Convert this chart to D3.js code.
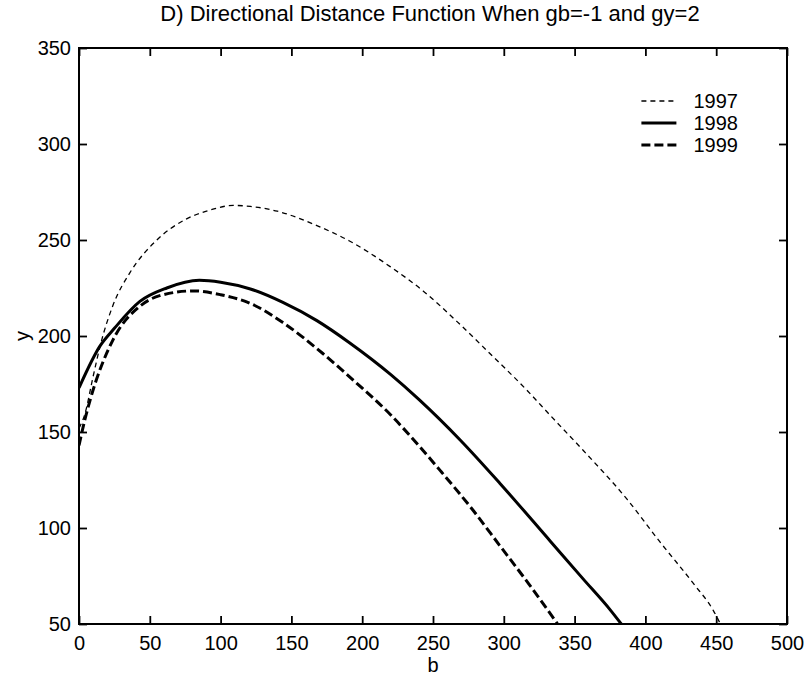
<!DOCTYPE html>
<html>
<head>
<meta charset="utf-8">
<script src="https://cdn.jsdelivr.net/npm/d3@7"></script>
<style>
  body { margin: 0; background: #fff; }
  text { font-family: "Liberation Sans", Arial, sans-serif; fill: #000; }
</style>
</head>
<body>
<div id="chart"></div>
<script>
const width = 807;
const height = 685;
const margin = { left: 79, right: 20, top: 48, bottom: 61 };

const xTicks = [0, 50, 100, 150, 200, 250, 300, 350, 400, 450, 500];
const yTicks = [50, 100, 150, 200, 250, 300, 350];
const seriesNames = ["1997", "1998", "1999"];

// b, y pairs
const b1997 = [0, 4, 10, 15, 24, 36, 55, 76, 92, 109, 121, 140, 168, 191, 220, 243, 267, 290, 316, 333, 356, 387, 410, 434, 448, 453];
const y1997 = [152, 159, 179, 195, 216, 233, 250, 261, 265.5, 268, 267.5, 265, 257.5, 249.5, 236, 223.5, 207.5, 191, 172, 158.5, 140.5, 115, 93, 71, 57, 50];

const b1998 = [0, 15, 25, 43, 62, 85, 100, 121, 144, 168, 191, 220, 240, 269, 297, 333, 356, 375, 383];
const y1998 = [173, 195, 204, 218, 225, 229, 228, 224.5, 217.5, 208, 196.5, 180, 167, 146, 123.5, 93, 73.5, 57.5, 50];

const b1999 = [0, 4, 8, 24, 43, 57, 81, 100, 121, 144, 172, 196, 220, 241, 255, 278, 297, 318, 338];
const y1999 = [143, 156, 167, 198, 215.5, 221, 223.5, 221.5, 217, 207, 191, 175.5, 159, 142, 130, 109.5, 91, 70.5, 50];

const styles = {
  "1997": { width: 1.3, dash: "5,4" },
  "1998": { width: 3, dash: null },
  "1999": { width: 3, dash: "9,4" },
};

const series = [
  { name: "1997", b: b1997, y: y1997 },
  { name: "1998", b: b1998, y: y1998 },
  { name: "1999", b: b1999, y: y1999 },
].map((s) => ({ name: s.name, values: s.b.map((d, i) => ({ b: d, y: s.y[i] })) }));

const innerW = width - margin.left - margin.right;
const innerH = height - margin.top - margin.bottom;

const x = d3.scaleLinear().domain([0, 500]).range([0, innerW]);
const y = d3.scaleLinear().domain([50, 350]).range([innerH, 0]);

const svg = d3
  .select("#chart")
  .append("svg")
  .attr("width", width)
  .attr("height", height);

svg
  .append("defs")
  .append("clipPath")
  .attr("id", "clip")
  .append("rect")
  .attr("width", innerW)
  .attr("height", innerH);

const g = svg
  .append("g")
  .attr("transform", `translate(${margin.left},${margin.top})`);

// axes, ticks pointing inward like the original
g.append("g")
  .attr("transform", `translate(0,${innerH})`)
  .call(d3.axisBottom(x).tickValues(xTicks).tickSizeInner(-8).tickSizeOuter(0).tickPadding(12))
  .call((a) => a.select(".domain").remove());
g.append("g")
  .call(d3.axisTop(x).tickValues(xTicks).tickSizeInner(-8).tickSizeOuter(0).tickFormat(""))
  .call((a) => a.select(".domain").remove());
g.append("g")
  .call(d3.axisLeft(y).tickValues(yTicks).tickSizeInner(-8).tickSizeOuter(0).tickPadding(8))
  .call((a) => a.select(".domain").remove());
g.append("g")
  .attr("transform", `translate(${innerW},0)`)
  .call(d3.axisRight(y).tickValues(yTicks).tickSizeInner(-8).tickSizeOuter(0).tickFormat(""))
  .call((a) => a.select(".domain").remove());

g.selectAll(".tick line").attr("stroke", "#000").attr("stroke-width", 1.8);
g.selectAll(".tick text")
  .attr("font-size", 20)
  .attr("font-family", "Liberation Sans, Arial, sans-serif")
  .attr("fill", "#000");

g.append("rect")
  .attr("width", innerW)
  .attr("height", innerH)
  .attr("fill", "none")
  .attr("stroke", "#000")
  .attr("stroke-width", 2);

const line = d3
  .line()
  .x((d) => x(d.b))
  .y((d) => y(d.y))
  .curve(d3.curveMonotoneX);

g.append("g")
  .attr("clip-path", "url(#clip)")
  .selectAll("path")
  .data(series)
  .join("path")
  .attr("fill", "none")
  .attr("stroke", "#000")
  .attr("stroke-width", (d) => styles[d.name].width)
  .attr("stroke-dasharray", (d) => styles[d.name].dash)
  .attr("d", (d) => line(d.values));

// legend
const legend = g
  .append("g")
  .attr("transform", `translate(${x(400) - 4},${53})`);
const row = legend
  .selectAll("g")
  .data(seriesNames)
  .join("g")
  .attr("transform", (d, i) => `translate(0,${i * 22})`);
row
  .append("line")
  .attr("x1", 0)
  .attr("x2", 35)
  .attr("stroke", "#000")
  .attr("stroke-width", (d) => styles[d].width)
  .attr("stroke-dasharray", (d) => styles[d].dash);
row
  .append("text")
  .attr("x", 52)
  .attr("dy", "0.36em")
  .attr("font-size", 20)
  .text((d) => d);

// titles
svg
  .append("text")
  .attr("x", margin.left + innerW / 2 - 3)
  .attr("y", 21)
  .attr("text-anchor", "middle")
  .attr("font-size", 22)
  .text("D) Directional Distance Function When gb=-1 and gy=2");
svg
  .append("text")
  .attr("x", margin.left + innerW / 2)
  .attr("y", 672)
  .attr("text-anchor", "middle")
  .attr("font-size", 20)
  .text("b");
svg
  .append("text")
  .attr("transform", `translate(${margin.left - 50},${margin.top + innerH / 2}) rotate(-90)`)
  .attr("text-anchor", "middle")
  .attr("font-size", 20)
  .text("y");
</script>
</body>
</html>
